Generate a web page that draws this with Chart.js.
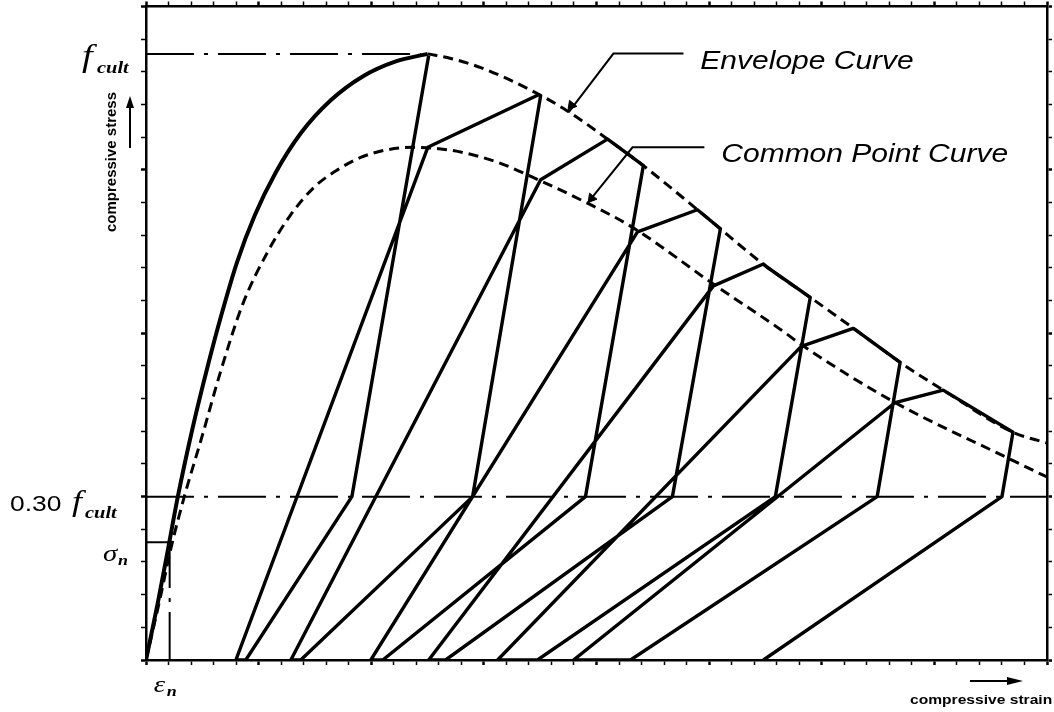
<!DOCTYPE html>
<html>
<head>
<meta charset="utf-8">
<script src="https://cdn.jsdelivr.net/npm/chart.js@4.4.1/dist/chart.umd.min.js"></script>
<style>
  html, body { margin: 0; padding: 0; background: #fff; }
  #wrap { width: 1054px; height: 712px; }
</style>
</head>
<body>
<div id="wrap"><canvas id="cyclicChart"></canvas></div>
<script>
// strain in tick units (0..40), stress in tick units (0..20)
const F_CULT = 18.55;
const STRESS_LIMIT = 5;      // 0.30 f_cult
const SIGMA_N = 3.6;
const EPS_N = 1.05;

const envelopeRising = [[0,0],[0.53,1.77],[1.02,3.55],[1.42,5.02],[2.08,7.13],[2.75,9.02],[3.33,10.52],
  [4.04,12.17],[4.83,13.61],[5.76,14.92],[6.87,16.12],[8.2,17.13],[9.62,17.86],[11.09,18.32],[12.5,18.55]];
const envelopeFalling = [[12.5,18.55],[13.53,18.41],[14.86,18.13],[16.94,17.49],[18.67,16.82],[20.75,15.81],
  [21.95,15.2],[24.52,13.76],[27.58,12.02],[29.67,11.01],[31.53,10.09],[33.48,9.11],[35.39,8.26],[38.49,6.97],[40,6.64]];
const commonPoint = [[0,0],[0.6,1.8],[1.1,3.4],[1.7,5.0],[2.45,6.75],[3.33,8.87],[4.3,10.9],[5.41,12.5],
  [6.4,13.6],[7.45,14.46],[8.5,15.0],[9.53,15.38],[10.6,15.6],[11.8,15.69],[13.0,15.65],[14.28,15.5],
  [15.74,15.2],[17.47,14.68],[19.6,13.98],[21.6,13.24],[25.2,11.5],[28.2,10.1],[29.2,9.6],[33.2,7.9],[38.2,6.2],[40,5.6]];

// unloading / reloading path, cycle after cycle
const cyclePath = [
  [12.55,18.5],[9.14,5.0],[4.43,0],[3.99,0],[12.51,15.69],[17.43,17.3],[17.52,17.27],
  [14.5,5.0],[6.87,0],[6.43,0],[17.52,14.7],[20.49,15.94],[20.75,15.81],[21.95,15.2],[22.08,15.13],
  [19.51,5.0],[10.51,0],[9.98,0],[21.82,13.1],[24.48,13.78],[25.5,13.2],
  [23.37,5.0],[13.3,0],[12.55,0],[25.19,11.45],[27.41,12.12],[27.58,12.02],[29.49,11.1],
  [27.94,5.0],[17.38,0],[15.61,0],[29.09,9.6],[31.4,10.15],[31.53,10.09],[33.48,9.11],
  [32.46,5.0],[21.51,0],[18.98,0],[33.26,7.88],[35.39,8.26],[38.49,6.97],
  [38.0,5.0],[27.41,0]
];

const fCultLine = [[0,F_CULT],[12.2,F_CULT]];
const limitLine = [[0,STRESS_LIMIT],[40,STRESS_LIMIT]];
const sigmaLine = [[0,SIGMA_N],[EPS_N,SIGMA_N]];
const epsLine = [[EPS_N,0],[EPS_N,SIGMA_N]];

const envelopeLeader = [[23.86,18.56],[20.75,18.56],[18.76,16.76]];
const commonLeader = [[24.79,15.69],[21.6,15.69],[19.6,13.98]];
const leaderHeads = [[18.89,16.97],[19.78,14.13]];

const curveLabels = [
  { text: 'Envelope Curve', x: 24.61, y: 18.1 },
  { text: 'Common Point Curve', x: 25.54, y: 15.23 }
];
const stressAxisTitle = 'compressive stress';
const strainAxisTitle = 'compressive strain';

const pts = arr => arr.map(p => ({ x: p[0], y: p[1] }));
const DASH_DOT = [48, 10, 4, 10];
const STRETCH = 1.2;
const SERIF = '"Liberation Serif", "Times New Roman", serif';
const SANS = '"Liberation Sans", Arial, sans-serif';

function putText(ctx, text, x, y, font, align) {
  ctx.save();
  ctx.font = font;
  ctx.textAlign = align || 'left';
  ctx.textBaseline = 'alphabetic';
  ctx.fillStyle = '#000';
  ctx.translate(x, y);
  ctx.scale(STRETCH, 1);
  ctx.fillText(text, 0, 0);
  ctx.restore();
}

function arrowHead(ctx, tipX, tipY, dir, len, half) {
  ctx.save();
  ctx.translate(tipX, tipY);
  ctx.rotate(dir);
  ctx.beginPath();
  ctx.moveTo(0, 0);
  ctx.lineTo(-len, -half);
  ctx.lineTo(-len, half);
  ctx.closePath();
  ctx.fill();
  ctx.restore();
}

const textPlugin = {
  id: 'textPlugin',
  afterDraw(chart) {
    const { ctx, chartArea: a, scales } = chart;
    const x = scales.x, y = scales.y;
    ctx.fillStyle = '#000';
    ctx.strokeStyle = '#000';

    // stress tick labels
    const yf = y.getPixelForValue(F_CULT);
    putText(ctx, 'f', a.left - 64, yf + 12, 'italic 32px ' + SERIF);
    putText(ctx, 'cult', a.left - 49, yf + 19, 'italic bold 17px ' + SERIF);

    const yl = y.getPixelForValue(STRESS_LIMIT);
    putText(ctx, '0.30', a.left - 136, yl + 14, '22px ' + SANS);
    putText(ctx, 'f', a.left - 74, yl + 14, 'italic 30px ' + SERIF);
    putText(ctx, 'cult', a.left - 61, yl + 21, 'italic bold 17px ' + SERIF);

    const ys = y.getPixelForValue(SIGMA_N);
    putText(ctx, 'σ', a.left - 43, ys + 19, 'italic 24px ' + SERIF);
    putText(ctx, 'n', a.left - 28, ys + 23, 'italic bold 15px ' + SERIF);

    // strain tick label
    const xe = x.getPixelForValue(EPS_N);
    putText(ctx, 'ε', xe - 16, a.bottom + 32, 'italic 24px ' + SERIF);
    putText(ctx, 'n', xe - 3, a.bottom + 36, 'italic bold 15px ' + SERIF);

    // curve names
    curveLabels.forEach(l => {
      putText(ctx, l.text, x.getPixelForValue(l.x), y.getPixelForValue(l.y), 'italic 25px ' + SANS);
    });

    // vertical axis title and arrow
    ctx.save();
    ctx.translate(a.left - 34, 162);
    ctx.rotate(-Math.PI / 2);
    ctx.font = 'bold 15px ' + SANS;
    ctx.textAlign = 'center';
    ctx.textBaseline = 'middle';
    ctx.fillText(stressAxisTitle, 0, 0);
    ctx.restore();
    ctx.lineWidth = 2;
    ctx.beginPath();
    ctx.moveTo(a.left - 16, 148);
    ctx.lineTo(a.left - 16, 105);
    ctx.stroke();
    arrowHead(ctx, a.left - 16, 96, -Math.PI / 2, 12, 4);

    // horizontal axis title and arrow
    putText(ctx, strainAxisTitle, a.right - 137, a.bottom + 44, 'bold 13px ' + SANS);
    ctx.beginPath();
    ctx.moveTo(a.right - 77, a.bottom + 21);
    ctx.lineTo(a.right - 34, a.bottom + 21);
    ctx.stroke();
    arrowHead(ctx, a.right - 24, a.bottom + 21, 0, 16, 4);
  }
};

const tickGrid = {
  drawOnChartArea: false,
  drawTicks: true,
  tickLength: 5,
  tickColor: '#000',
  tickWidth: c => (c.tick && c.tick.value % 5 === 0 ? 2.5 : 1.5)
};
const axisBorder = { display: true, color: '#000', width: 2.5 };

new Chart(document.getElementById('cyclicChart'), {
  type: 'scatter',
  data: {
    datasets: [
      { data: pts(fCultLine), showLine: true, borderColor: '#000', borderWidth: 2, borderDash: DASH_DOT, pointRadius: 0 },
      { data: pts(limitLine), showLine: true, borderColor: '#000', borderWidth: 2, borderDash: DASH_DOT, pointRadius: 0 },
      { data: pts(epsLine), showLine: true, borderColor: '#000', borderWidth: 2, borderDash: DASH_DOT, pointRadius: 0 },
      { data: pts(sigmaLine), showLine: true, borderColor: '#000', borderWidth: 2, pointRadius: 0 },
      { data: pts(envelopeRising), showLine: true, borderColor: '#000', borderWidth: 4, pointRadius: 0,
        cubicInterpolationMode: 'monotone' },
      { data: pts(envelopeFalling), showLine: true, borderColor: '#000', borderWidth: 3, borderDash: [10, 6],
        pointRadius: 0, cubicInterpolationMode: 'monotone' },
      { data: pts(commonPoint), showLine: true, borderColor: '#000', borderWidth: 3, borderDash: [10, 6],
        pointRadius: 0, cubicInterpolationMode: 'monotone' },
      { data: pts(cyclePath), showLine: true, borderColor: '#000', borderWidth: 3.4, pointRadius: 0,
        tension: 0, borderJoinStyle: 'round' },
      { data: pts(envelopeLeader), showLine: true, borderColor: '#000', borderWidth: 2, pointRadius: 0 },
      { data: pts(commonLeader), showLine: true, borderColor: '#000', borderWidth: 2, pointRadius: 0 },
      { data: pts(leaderHeads), showLine: false, pointStyle: 'triangle', pointRadius: 5.5, pointRotation: 219,
        backgroundColor: '#000', borderColor: '#000', borderWidth: 1 }
    ]
  },
  options: {
    responsive: true,
    maintainAspectRatio: false,
    animation: false,
    events: [],
    layout: { padding: { left: 141, top: 1, right: 2, bottom: 47 } },
    plugins: { legend: { display: false }, tooltip: { enabled: false } },
    scales: {
      x: { type: 'linear', position: 'bottom', min: 0, max: 40,
        ticks: { display: false, stepSize: 1 }, grid: tickGrid, border: axisBorder },
      x2: { type: 'linear', position: 'top', min: 0, max: 40,
        ticks: { display: false, stepSize: 1 }, grid: tickGrid, border: axisBorder },
      y: { type: 'linear', position: 'left', min: 0, max: 20,
        ticks: { display: false, stepSize: 1 }, grid: tickGrid, border: axisBorder },
      y2: { type: 'linear', position: 'right', min: 0, max: 20,
        ticks: { display: false, stepSize: 1 }, grid: tickGrid, border: axisBorder }
    }
  },
  plugins: [textPlugin]
});
</script>
</body>
</html>
